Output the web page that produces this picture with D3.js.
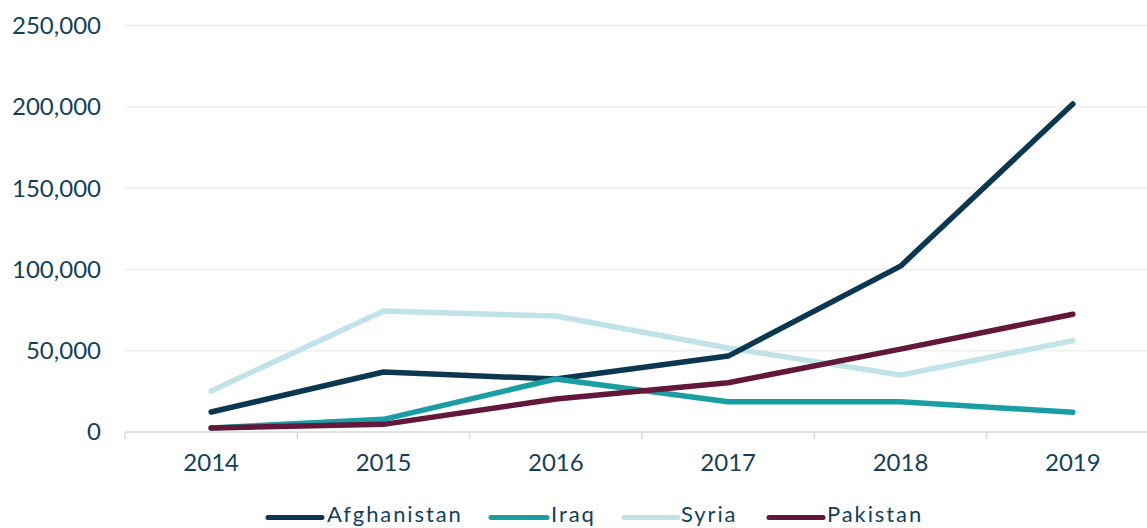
<!DOCTYPE html>
<html><head><meta charset="utf-8">
<script src="https://cdn.jsdelivr.net/npm/d3@7"></script>
<style>
html,body{margin:0;padding:0;background:#fff;}
svg{display:block;}
text{font-family:Lato,"Noto Sans",sans-serif;fill:#143f5a;}
</style></head>
<body><svg id="chart" width="1147" height="528"></svg>
<script>
const years = ["2014","2015","2016","2017","2018","2019"];
const afghanistan = [12300, 36900, 32600, 46700, 102000, 201700];
const iraq = [2500, 7800, 32600, 18600, 18600, 12100];
const syria = [25200, 74400, 71300, 51700, 35000, 56200];
const pakistan = [2500, 4700, 20300, 30300, 51000, 72400];
const yTicks = [0, 50000, 100000, 150000, 200000, 250000];
const seriesNames = ["Afghanistan","Iraq","Syria","Pakistan"];
const colors = ["#0b3850","#1b9ea3","#c0e3ea","#63173a"];
const seriesValues = [afghanistan, iraq, syria, pakistan];

(function(){
const svg = d3.select("#chart");
const mLeft = 125, mRight = 1159, mTop = 25.5, mBottom = 432;
const x = d3.scaleBand().domain(years).range([mLeft, mRight]);
const y = d3.scaleLinear().domain([0, 250000]).range([mBottom, mTop]);
const fmt = d3.format(",");

svg.append("g").selectAll("line").data(yTicks.filter(d=>d>0)).join("line")
  .attr("x1", mLeft).attr("x2", 1147)
  .attr("y1", d=>y(d)).attr("y2", d=>y(d))
  .attr("stroke", "#efefef").attr("stroke-width", 1.5);

svg.append("g").selectAll("text").data(yTicks).join("text")
  .attr("x", 101).attr("y", d=>y(d)).attr("dy","0.35em")
  .attr("text-anchor","end").attr("font-size", 24)
  .text(d=>fmt(d));

svg.append("line").attr("x1", mLeft).attr("x2", 1147)
  .attr("y1", mBottom).attr("y2", mBottom)
  .attr("stroke", "#d9d9d9").attr("stroke-width", 1.5);
const bounds = years.map(d=>x(d)).concat([x(years[years.length-1]) + x.bandwidth()]);
svg.append("g").selectAll("line").data(bounds).join("line")
  .attr("x1", d=>d).attr("x2", d=>d).attr("y1", mBottom).attr("y2", mBottom+7)
  .attr("stroke", "#d9d9d9").attr("stroke-width", 1.5);

svg.append("g").selectAll("text").data(years).join("text")
  .attr("x", d=>x(d)+x.bandwidth()/2).attr("y", 463).attr("dy","0.35em")
  .attr("text-anchor","middle").attr("font-size", 24)
  .text(d=>d);

const line = d3.line().x((d,i)=>x(years[i])+x.bandwidth()/2).y(d=>y(d));
const drawOrder = [2, 0, 1, 3];
drawOrder.forEach(k=>{
  svg.append("path").datum(seriesValues[k])
    .attr("d", line).attr("fill","none")
    .attr("stroke", colors[k]).attr("stroke-width", 5.5)
    .attr("stroke-linecap","round").attr("stroke-linejoin","round");
});

const legendLineX = [[268,322],[491,547],[624,678],[769,823]];
const legendTextX = [327, 551, 681, 827];
const lg = svg.append("g");
seriesNames.forEach((n,i)=>{
  lg.append("line").attr("x1", legendLineX[i][0]).attr("x2", legendLineX[i][1])
    .attr("y1", 517.5).attr("y2", 517.5)
    .attr("stroke", colors[i]).attr("stroke-width", 5).attr("stroke-linecap","round");
  lg.append("text").attr("x", legendTextX[i]).attr("y", 522)
    .attr("font-size", 22).attr("letter-spacing", 1.9).text(n);
});
})();
</script></body></html>
